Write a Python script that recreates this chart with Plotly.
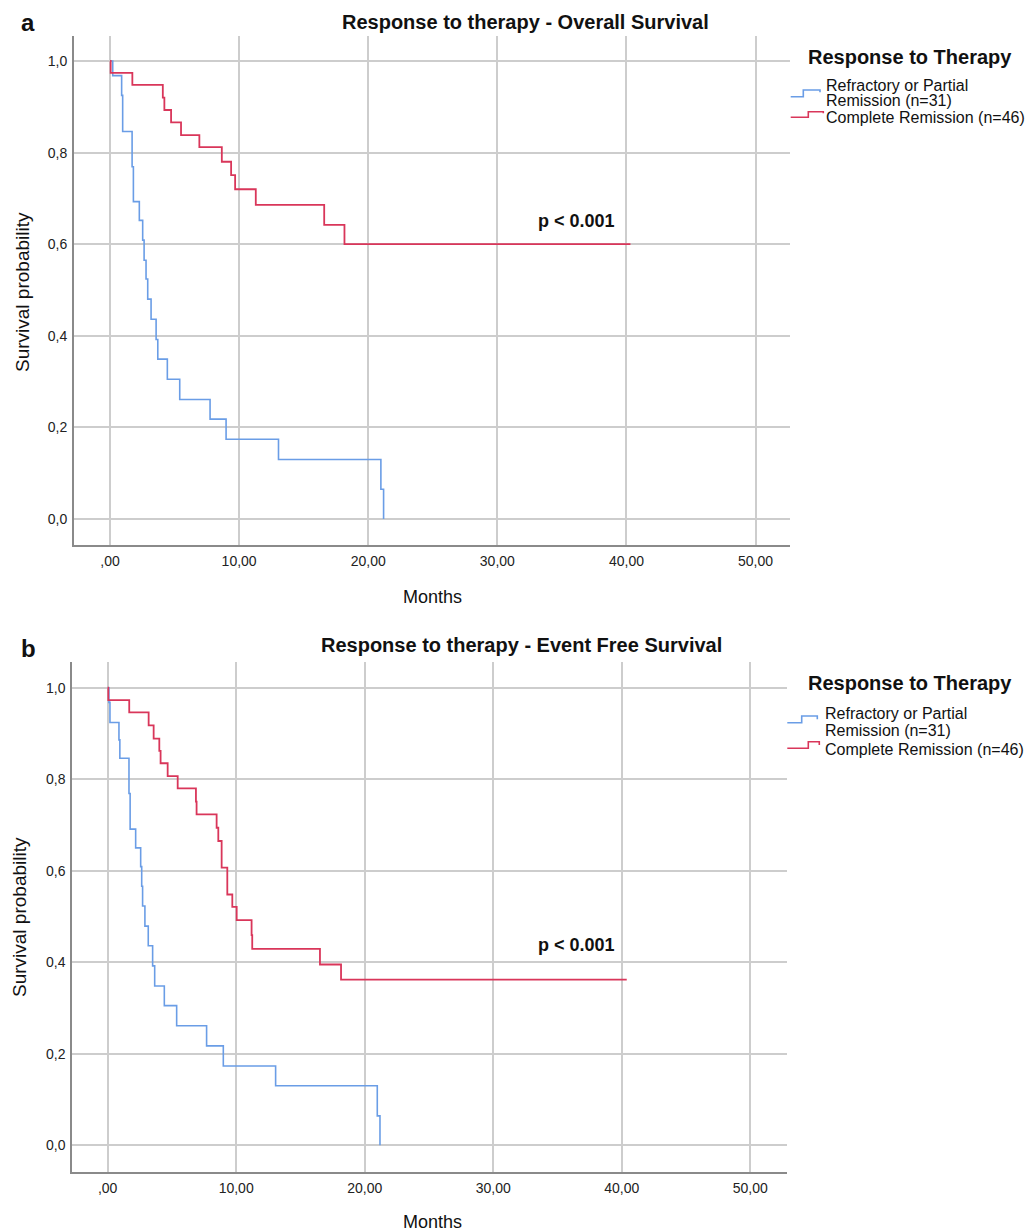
import plotly.graph_objects as go

W, H = 1029, 1232

# ---------------- data ----------------
os_cr_months = [0, 0.05, 1.73, 4.09, 4.21, 4.73, 5.50, 6.92, 8.66, 9.38, 9.69, 11.29, 16.59, 18.16, 40.31]
os_cr_surv = [1.0, 0.974, 0.948, 0.920, 0.893, 0.866, 0.838, 0.812, 0.780, 0.751, 0.720, 0.686, 0.642, 0.600, 0.600]

os_rp_months = [0, 0.21, 0.90, 0.98, 1.71, 1.81, 2.27, 2.53, 2.64, 2.79, 2.92, 3.18, 3.57, 3.70, 4.44, 5.40,
                7.75, 8.99, 13.05, 20.98, 21.19]
os_rp_surv = [1.0, 0.968, 0.925, 0.846, 0.769, 0.693, 0.652, 0.609, 0.565, 0.524, 0.480, 0.436, 0.392, 0.349,
              0.305, 0.261, 0.218, 0.174, 0.130, 0.065, 0.0]

efs_cr_months = [0, 0.05, 1.68, 3.19, 3.58, 4.02, 4.12, 4.67, 5.45, 6.87, 6.92, 8.48, 8.61, 8.87, 9.31, 9.70,
                 10.04, 11.20, 11.25, 16.52, 18.16, 40.39]
efs_cr_surv = [1.0, 0.973, 0.946, 0.918, 0.889, 0.862, 0.835, 0.807, 0.780, 0.751, 0.723, 0.694, 0.665, 0.607,
               0.548, 0.521, 0.492, 0.459, 0.429, 0.395, 0.362, 0.362]

efs_rp_months = [0, 0.10, 0.18, 0.88, 0.95, 1.66, 1.75, 2.18, 2.57, 2.65, 2.72, 2.90, 3.16, 3.50, 3.66, 4.41,
                 5.37, 7.70, 9.00, 13.07, 20.98, 21.19]
efs_rp_surv = [1.0, 0.968, 0.924, 0.886, 0.846, 0.769, 0.691, 0.650, 0.609, 0.566, 0.523, 0.479, 0.436, 0.392,
               0.348, 0.305, 0.261, 0.217, 0.173, 0.130, 0.064, 0.0]

x_tickvals = [0, 10, 20, 30, 40, 50]
x_ticktext = [",00", "10,00", "20,00", "30,00", "40,00", "50,00"]
y_tickvals = [0, 0.2, 0.4, 0.6, 0.8, 1.0]
y_ticktext = ["0,0", "0,2", "0,4", "0,6", "0,8", "1,0"]

series_names = ["Refractory or Partial Remission (n=31)", "Complete Remission (n=46)"]
panel_titles = ["Response to therapy - Overall Survival", "Response to therapy - Event Free Survival"]
legend_title = "Response to Therapy"
p_text = "p < 0.001"

BLUE = "#6a9de6"
RED = "#d9365a"
GRID = "#cdcdcd"
AXIS = "#8a8a8a"
FONT = "Liberation Sans, Arial, sans-serif"


def px(x):
    return x / W


def py(y):
    return 1 - y / H


fig = go.Figure()

panels = [
    ("x", "y", os_rp_months, os_rp_surv, os_cr_months, os_cr_surv),
    ("x2", "y2", efs_rp_months, efs_rp_surv, efs_cr_months, efs_cr_surv),
]
for xa, ya, rp_t, rp_s, cr_t, cr_s in panels:
    fig.add_trace(go.Scatter(x=rp_t, y=rp_s, mode="lines", line=dict(color=BLUE, width=1.6, shape="hv"),
                             name=series_names[0], xaxis=xa, yaxis=ya, showlegend=False))
    fig.add_trace(go.Scatter(x=cr_t, y=cr_s, mode="lines", line=dict(color=RED, width=1.8, shape="hv"),
                             name=series_names[1], xaxis=xa, yaxis=ya, showlegend=False))

axis_common = dict(showgrid=True, gridcolor=GRID, gridwidth=1.5, zeroline=True, zerolinecolor=GRID,
                   zerolinewidth=1.5, showline=True, linecolor=AXIS, linewidth=2, ticks="",
                   tickfont=dict(family=FONT, size=14, color="#222"))

fig.update_layout(
    width=W, height=H, margin=dict(l=0, r=0, t=0, b=0),
    plot_bgcolor="white", paper_bgcolor="white", showlegend=False,
    xaxis=dict(axis_common, domain=[px(74), px(790)], range=[-2.79, 52.67], anchor="y",
               tickvals=x_tickvals, ticktext=x_ticktext, ticklabelstandoff=2),
    yaxis=dict(axis_common, domain=[py(545), py(36)], range=[-0.0568, 1.0546], anchor="x",
               tickvals=y_tickvals, ticktext=y_ticktext, ticklabelstandoff=2),
    xaxis2=dict(axis_common, domain=[px(72.3), px(787)], range=[-2.75, 52.86], anchor="y2",
                tickvals=x_tickvals, ticktext=x_ticktext, ticklabelstandoff=2),
    yaxis2=dict(axis_common, domain=[py(1171.7), py(661.7)], range=[-0.058, 1.057], anchor="x2",
                tickvals=y_tickvals, ticktext=y_ticktext, ticklabelstandoff=2),
)

ann = []


def add_text(text, x, y, size, bold=False, xanchor="center", textangle=0, color="#111"):
    ann.append(dict(text=f"<b>{text}</b>" if bold else text, x=px(x), y=py(y), xref="paper", yref="paper",
                    xanchor=xanchor, yanchor="middle", showarrow=False, textangle=textangle,
                    font=dict(family=FONT, size=size, color=color)))


# panel letters and titles
add_text("a", 28, 22, 24, bold=True)
add_text("b", 28, 648, 24, bold=True)
add_text(panel_titles[0], 525, 22, 20, bold=True)
add_text(panel_titles[1], 521, 645, 20, bold=True)

# axis titles
add_text("Survival probability", 22, 292, 19, textangle=-90)
add_text("Survival probability", 20, 917, 19, textangle=-90)
add_text("Months", 432, 597, 18)
add_text("Months", 432, 1222, 18)

# p values
add_text(p_text, 576, 221, 18, bold=True)
add_text(p_text, 576, 945, 18, bold=True)

# legends
shapes = []
for (ty, l1, l2, l3, tx, bl, rd) in [
    (57, 85, 101, 117.3, 824,
     [(790.7, 96.7), (803.3, 96.7), (803.3, 90), (820, 90), (820, 92.3)],
     [(790.7, 117.3), (808.3, 117.3), (808.3, 111.7), (823.3, 111.7), (823.3, 113.3)]),
    (683, 713.3, 730.7, 749.3, 822.5,
     [(787.3, 722.7), (801.7, 722.7), (801.7, 716), (817.3, 716), (817.3, 719.3)],
     [(787.3, 748.3), (808.3, 748.3), (808.3, 741.7), (819.3, 741.7), (819.3, 745)]),
]:
    add_text(legend_title, 910, ty, 20, bold=True)
    add_text("Refractory or Partial", tx, l1, 16, xanchor="left")
    add_text("Remission (n=31)", tx, l2, 16, xanchor="left")
    add_text("Complete Remission (n=46)", tx, l3, 16, xanchor="left")
    for pts, col in [(bl, BLUE), (rd, RED)]:
        path = "M " + " L ".join(f"{px(a):.5f},{py(b):.5f}" for a, b in pts)
        shapes.append(dict(type="path", path=path, xref="paper", yref="paper",
                           line=dict(color=col, width=1.6)))

fig.update_layout(annotations=ann, shapes=shapes)
# remove the default page margin so the 1029x1232 figure fills the window exactly
fig.write_html("out.html", config={"displayModeBar": False},
               post_script="document.body.style.margin='0';document.body.style.overflow='hidden';")
